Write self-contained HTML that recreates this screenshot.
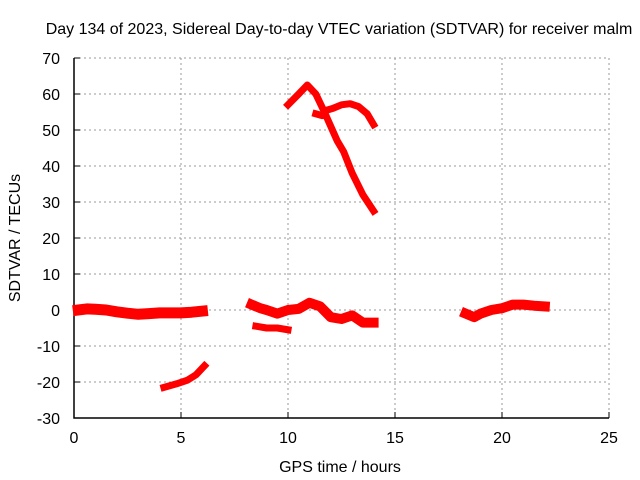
<!DOCTYPE html>
<html><head><meta charset="utf-8"><style>body{margin:0;background:#fff}svg{display:block;font-family:"Liberation Sans",sans-serif}</style></head>
<body>
<svg id="chart" width="640" height="480" xmlns="http://www.w3.org/2000/svg">
<rect width="640" height="480" fill="#fff"/>
<text x="339" y="34" font-size="16" text-anchor="middle">Day 134 of 2023, Sidereal Day-to-day VTEC variation (SDTVAR) for receiver malm</text>
<g id="grid"></g><g id="axes"></g><g id="series"></g>
<text x="340" y="472" font-size="16" text-anchor="middle">GPS time / hours</text>
<text transform="translate(20,238) rotate(-90)" font-size="16" text-anchor="middle">SDTVAR / TECUs</text>
</svg>
<script>
const xTicks=[0,5,10,15,20,25];
const yTicks=[-30,-20,-10,0,10,20,30,40,50,60,70];
const s1x=[0.2,0.6,1,1.5,2,2.5,3,3.5,4,4.5,5,5.5,6];
const s1y=[0,0.3,0.2,0,-0.5,-0.9,-1.2,-1,-0.8,-0.8,-0.8,-0.6,-0.3];
const s2x=[4.2,4.8,5.3,5.7,6.1];
const s2y=[-21.5,-20.5,-19.5,-18,-15.5];
const s3x=[8.3,8.7,9,9.5,10,10.5,11,11.5,12,12.5,13,13.5,14];
const s3y=[1.5,0.5,0,-1,0,0.3,2,1,-2,-2.5,-1.5,-3.5,-3.5];
const s4x=[8.5,9,9.5,10];
const s4y=[-4.5,-5,-5,-5.5];
const s5x=[10,10.5,10.9,11.3,11.7,12,12.3,12.6,13,13.5,14];
const s5y=[57,60,62.5,60,55,51,47,44,38,32,27.5];
const s6x=[11.3,11.6,11.8,12.1,12.5,12.9,13.3,13.7,14];
const s6y=[54.5,54,55.5,56,57,57.3,56.5,54.5,51.5];
const s7x=[18.3,18.7,19,19.5,20,20.5,21,21.5,22];
const s7y=[-1,-2,-1,0,0.5,1.5,1.5,1.2,1];
const X=v=>74+v*(609-74)/25, Y=v=>418-(v+30)*3.6;
const NS="http://www.w3.org/2000/svg";
function mk(t,a,p){const e=document.createElementNS(NS,t);for(const k in a)e.setAttribute(k,a[k]);p.appendChild(e);return e;}
const g=document.getElementById('grid'),ax=document.getElementById('axes'),sg=document.getElementById('series');
xTicks.forEach(t=>{
 if(t>0){const l=mk('line',{x1:X(t),x2:X(t),y1:58,y2:418,stroke:'#999','stroke-dasharray':'2,3'},g);
 
 }
 const tx=mk('text',{x:X(t),y:443,'font-size':16,'text-anchor':'middle'},ax);tx.textContent=t;
 
 
 mk('line',{x1:X(t),x2:X(t),y1:418,y2:412,stroke:'#000'},ax);
});
yTicks.forEach(t=>{
 if(t>-30){const l=mk('line',{x1:74,x2:609,y1:Y(t),y2:Y(t),stroke:'#999','stroke-dasharray':'2,3'},g);
 
 }
 const tx=mk('text',{x:60,y:Y(t)+6,'font-size':16,'text-anchor':'end'},ax);tx.textContent=t;
 
 
 mk('line',{x1:74,x2:80,y1:Y(t),y2:Y(t),stroke:'#000'},ax);
});
const bx=mk('path',{d:'M74 58V418H609',fill:'none',stroke:'#000','stroke-width':1.5},ax);


[[s1x,s1y,11],[s2x,s2y,7],[s3x,s3y,10],[s4x,s4y,7],[s5x,s5y,7],[s6x,s6y,7],[s7x,s7y,10]].forEach((s,i)=>{
 const d=s[0].map((v,j)=>(j?'L':'M')+X(v).toFixed(1)+' '+Y(s[1][j]).toFixed(1)).join('');
 const p=mk('path',{d:d,fill:'none',stroke:'#f00','stroke-width':s[2],'stroke-linejoin':'round','stroke-linecap':'square'},sg);
 
 
});
</script>
</body></html>
